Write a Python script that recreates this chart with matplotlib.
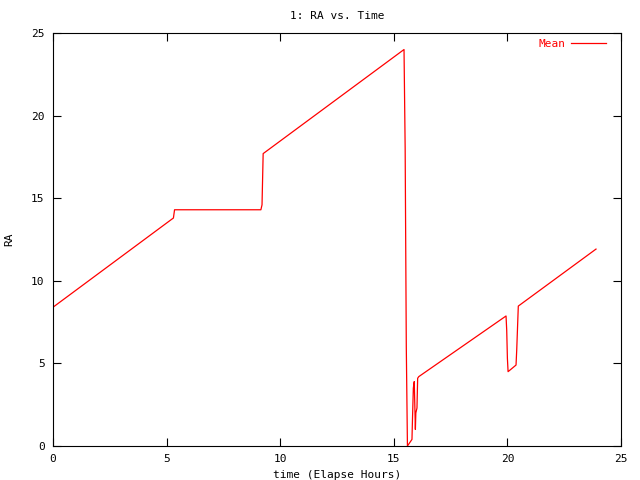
import matplotlib
matplotlib.use("Agg")
import matplotlib.pyplot as plt

# elapsed hours and mean RA
hours = [0.0, 5.2, 5.3, 5.35, 9.15, 9.2, 9.25, 15.45, 15.5, 15.55, 15.6,
         15.8, 15.82, 15.86, 15.9, 15.95, 15.97, 16.02, 16.05, 16.1,
         19.94, 19.97, 20.0, 20.03, 20.38, 20.41, 20.48, 23.9]
ra = [8.4, 13.7, 13.8, 14.3, 14.3, 14.6, 17.7, 24.0, 18.0, 6.0, 0.0,
      0.4, 1.5, 3.5, 3.9, 1.0, 2.0, 2.3, 4.1, 4.2,
      7.87, 7.0, 5.3, 4.5, 4.9, 5.8, 8.47, 11.92]

xticks = [0, 5, 10, 15, 20, 25]
yticks = [0, 5, 10, 15, 20, 25]

font = "DejaVu Sans Mono"

fig = plt.figure(figsize=(6.4, 4.8), dpi=100)
ax = fig.add_axes([53 / 640, 34 / 480, 568 / 640, 413 / 480])

ax.plot(hours, ra, color="red", linewidth=0.9, label="Mean")

ax.set_xlim(0, 25)
ax.set_ylim(0, 25)
ax.set_xticks(xticks)
ax.set_yticks(yticks)
ax.tick_params(direction="in", length=6, width=0.8, top=True, right=True,
               labelsize=8, pad=6)
for lbl in ax.get_xticklabels() + ax.get_yticklabels():
    lbl.set_family(font)
for s in ax.spines.values():
    s.set_linewidth(0.8)

ax.set_title("1: RA vs. Time", fontsize=8, family=font, pad=10)
ax.set_xlabel("time (Elapse Hours)", fontsize=8, family=font, labelpad=4)
ax.set_ylabel("RA", fontsize=8, family=font, labelpad=12)

leg = ax.legend(loc="upper right", frameon=False, markerfirst=False,
                prop={"family": font, "size": 8}, handlelength=3.2,
                handletextpad=0.5, borderaxespad=0.3,
                bbox_to_anchor=(0.988, 1.005))
for t in leg.get_texts():
    t.set_color("red")

fig.savefig("out.png", dpi=100)
